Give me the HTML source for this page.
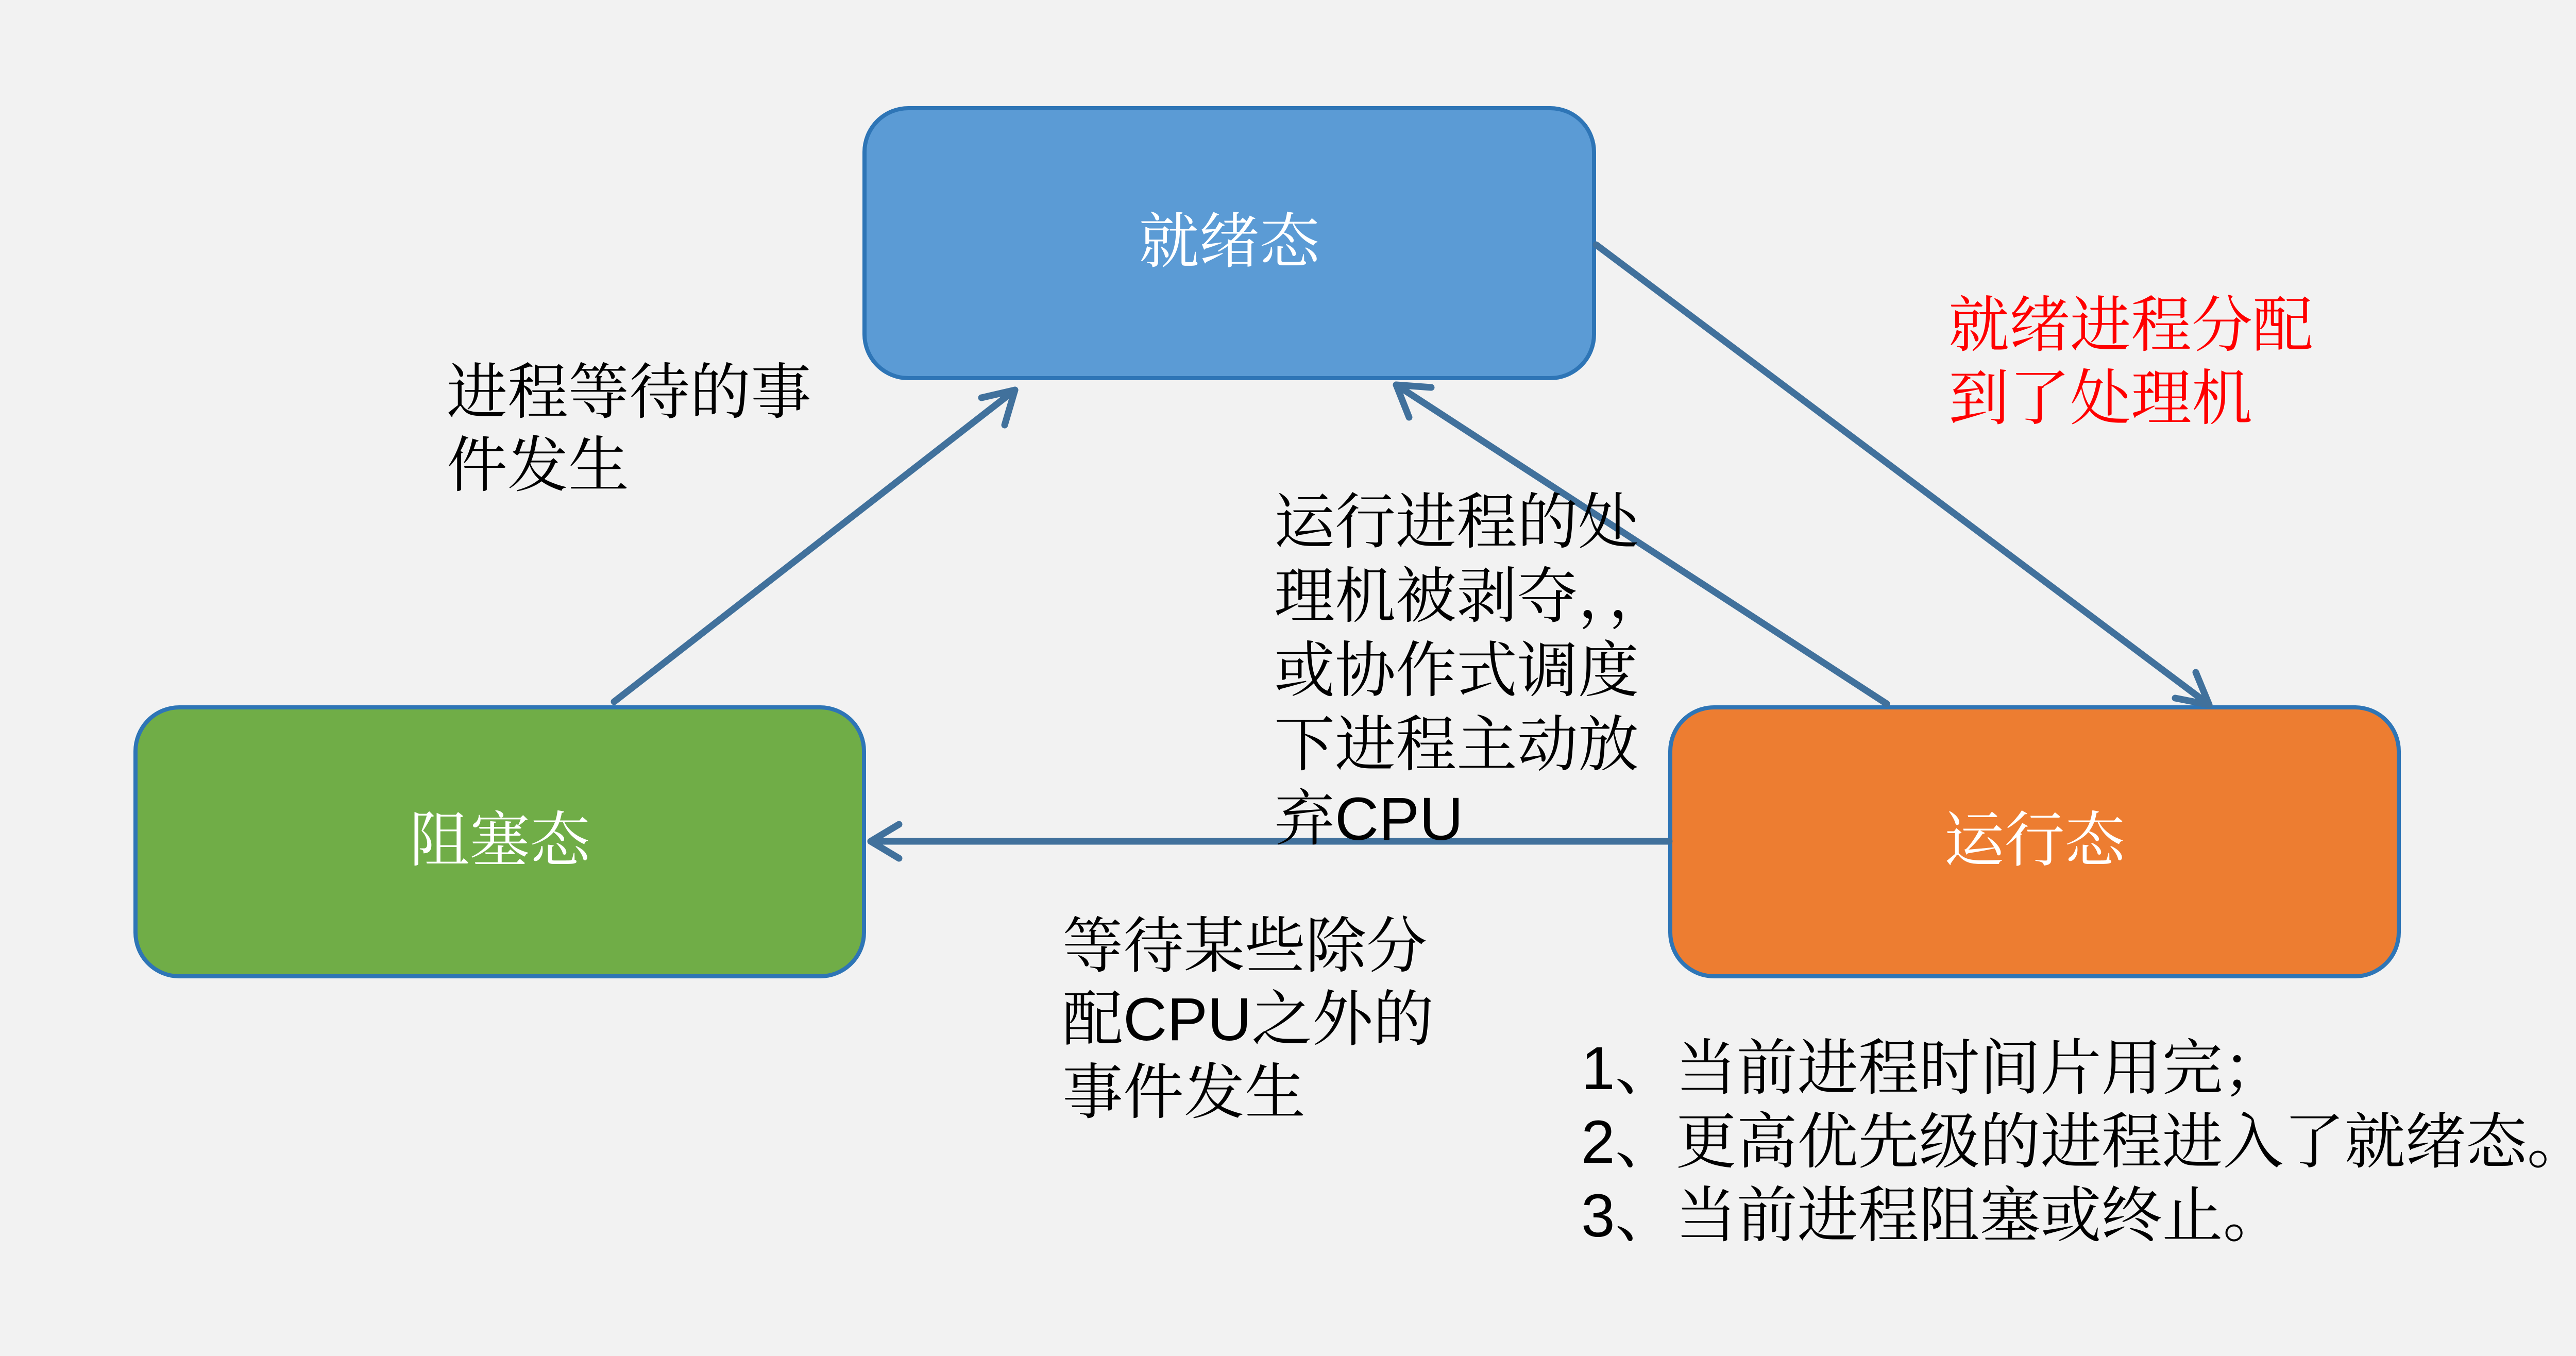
<!DOCTYPE html>
<html><head><meta charset="utf-8"><style>
html,body{margin:0;padding:0;background:#f2f2f2;}
#c{position:relative;width:5248px;height:2632px;overflow:hidden;background:#f2f2f2;font-family:"Liberation Sans","Noto Serif CJK SC","Noto Sans CJK SC",sans-serif;}
.t{position:absolute;font-size:118px;line-height:142px;color:#000;white-space:nowrap;}
.b{position:absolute;font-size:117px;line-height:140px;color:#fff;white-space:nowrap;text-align:center;}
svg{position:absolute;left:0;top:0;}
</style></head><body><div id="c">
<svg width="5248" height="2632" viewBox="0 0 5248 2632">
<defs>
<marker id="a" markerWidth="10" markerHeight="10" refX="8" refY="5" orient="auto" markerUnits="userSpaceOnUse" viewBox="0 0 10 10" style="overflow:visible">
</marker>
</defs>
<rect x="1678" y="210" width="1416" height="524" rx="85" fill="#5b9bd5" stroke="#2e75b6" stroke-width="8"/>
<rect x="263" y="1373" width="1414" height="522" rx="85" fill="#70ad47" stroke="#2e75b6" stroke-width="8"/>
<rect x="3242" y="1373" width="1414" height="522" rx="85" fill="#ed7d31" stroke="#2e75b6" stroke-width="8"/>
<g stroke="#41719c" stroke-width="13" fill="none" stroke-linecap="round" stroke-linejoin="round">
<line x1="1192" y1="1362" x2="1970" y2="757"/>
<polyline points="1905,772 1970,757 1950,825"/>
<line x1="3098" y1="475" x2="4288" y2="1368"/>
<polyline points="4222,1355 4288,1368 4262,1305"/>
<line x1="3662" y1="1366" x2="2710" y2="747"/>
<polyline points="2735,810 2710,747 2778,752"/>
<line x1="3240" y1="1633" x2="1690" y2="1633"/>
<polyline points="1745,1600 1690,1633 1745,1666"/>
</g>
</svg>
<div class="b" style="left:1678px;top:399px;width:1416px;">就绪态</div>
<div class="b" style="left:263px;top:1561px;width:1414px;">阻塞态</div>
<div class="b" style="left:3242px;top:1561px;width:1414px;">运行态</div>
<div class="t" style="left:867px;top:691px;">进程等待的事<br>件发生</div>
<div class="t" style="left:3782px;top:561px;color:#ff0000;">就绪进程分配<br>到了处理机</div>
<div class="t" style="left:2473px;top:942px;line-height:144px;">运行进程的处<br>理机被剥夺，，<br>或协作式调度<br>下进程主动放<br>弃CPU</div>
<div class="t" style="left:2062px;top:1766px;">等待某些除分<br>配CPU之外的<br>事件发生</div>
<div class="t" style="left:3069px;top:2003px;line-height:143px;">1、当前进程时间片用完；<br>2、更高优先级的进程进入了就绪态。<br>3、当前进程阻塞或终止。</div>
</div></body></html>
